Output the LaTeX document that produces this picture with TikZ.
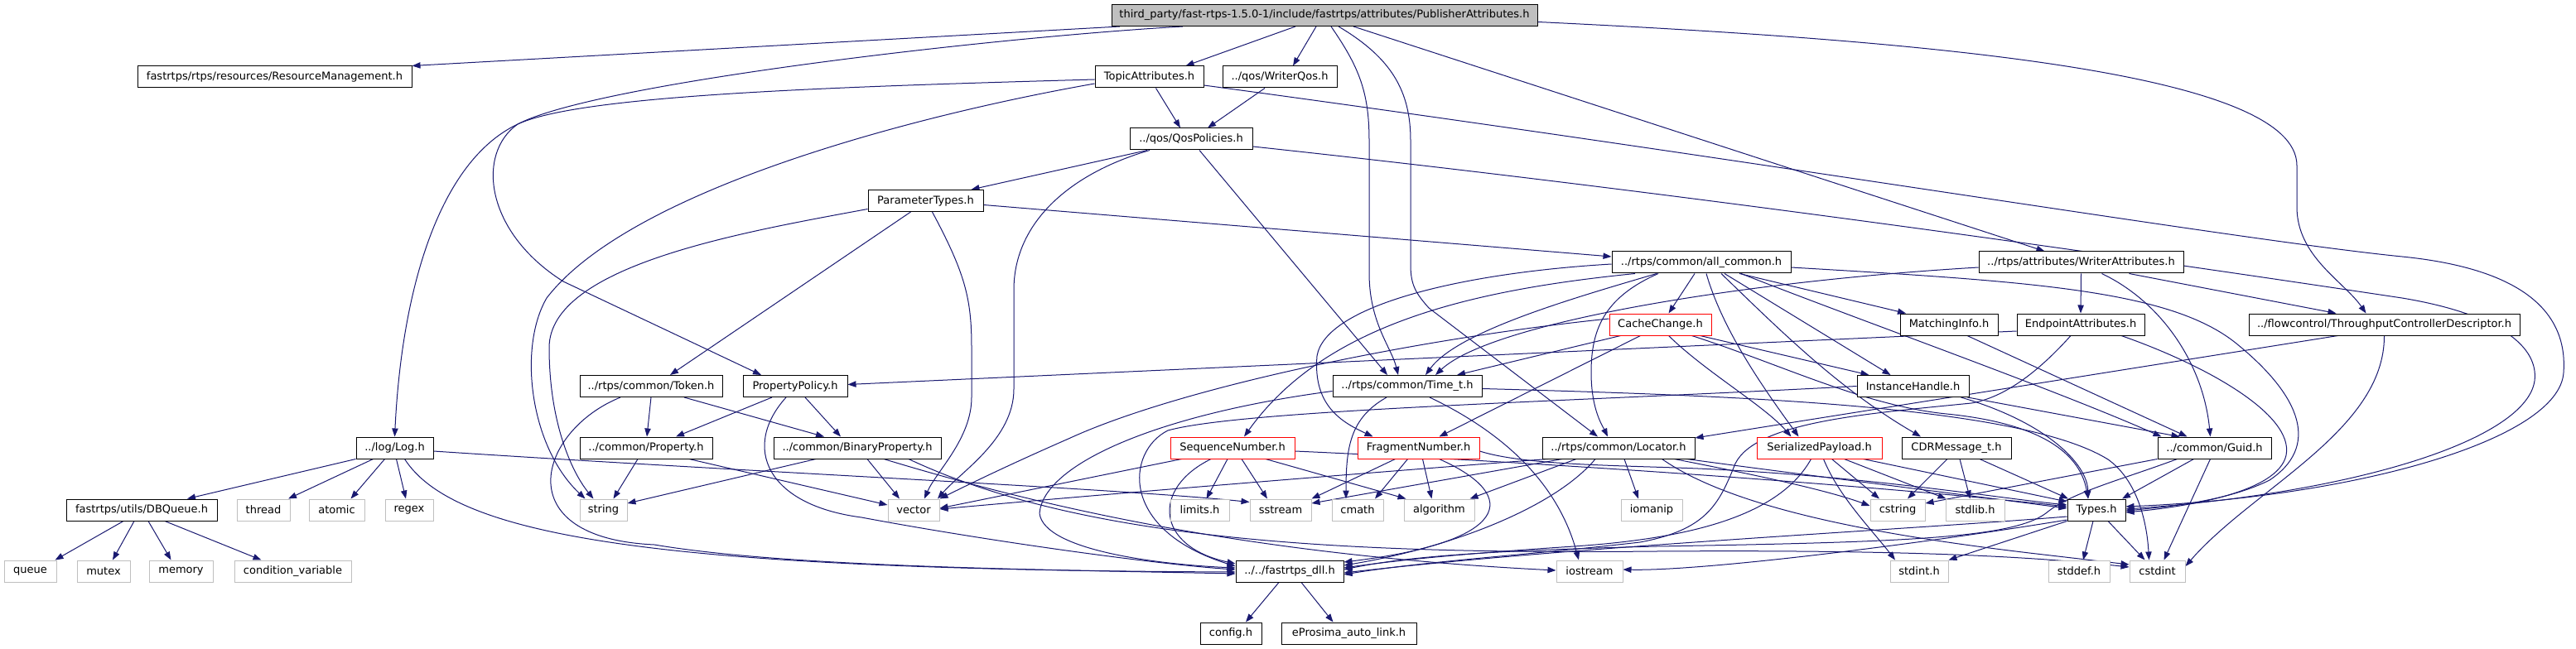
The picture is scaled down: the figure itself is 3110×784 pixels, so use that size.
\documentclass[tikz,border=0pt]{standalone}
\usepackage{fontspec}
\newfontfamily\dfont{DejaVu Sans}
\usetikzlibrary{arrows.meta,calc}
\definecolor{mblue}{HTML}{191970}
\definecolor{lgray}{HTML}{BFBFBF}
\pgfdeclarelayer{bg}
\pgfsetlayers{bg,main}
\begin{document}
\begin{tikzpicture}[x=0.75pt,y=-0.75pt,
  nd/.style={draw=black, fill=white, line width=0.75pt, inner sep=0pt, minimum height=19.5pt,
             font=\dfont\fontsize{9.75}{11}\selectfont, text=black, minimum width=#1*0.75pt},
  ns/.style={nd=#1, draw=lgray},
  nr/.style={nd=#1, draw=red},
  e/.style={draw=mblue, line width=0.75pt, -{Triangle[length=7.5pt,width=5.5pt]}}]
\useasboundingbox (0,0) rectangle (3110,784);
% ---------------- nodes ----------------
\node[nd=514, fill=lgray] (pub) at (1599,18.5) {third\_party/fast-rtps-1.5.0-1/include/fastrtps/attributes/PublisherAttributes.h};
\node[nd=331] (rm) at (331.5,93) {fastrtps/rtps/resources/ResourceManagement.h};
\node[nd=131] (topic) at (1387.5,93) {TopicAttributes.h};
\node[nd=138] (wqos) at (1545,93) {../qos/WriterQos.h};
\node[nd=148] (qos) at (1438,168) {../qos/QosPolicies.h};
\node[nd=139] (ptypes) at (1117.5,242.5) {ParameterTypes.h};
\node[nd=216] (allc) at (2054,317) {../rtps/common/all\_common.h};
\node[nd=247] (wattr) at (2512.5,317) {../rtps/attributes/WriterAttributes.h};
\node[nr=123] (cache) at (2004.5,392) {CacheChange.h};
\node[nd=118] (match) at (2353,392) {MatchingInfo.h};
\node[nd=154] (endp) at (2512,392) {EndpointAttributes.h};
\node[nd=327] (thru) at (2878.5,392) {../flowcontrol/ThroughputControllerDescriptor.h};
\node[nd=172] (token) at (786,466.5) {../rtps/common/Token.h};
\node[nd=126] (ppol) at (960,466.5) {PropertyPolicy.h};
\node[nd=180] (timet) at (1699,466.5) {../rtps/common/Time\_t.h};
\node[nd=135] (ihandle) at (2309.5,466.5) {InstanceHandle.h};
\node[nd=93] (log) at (476.5,541) {../log/Log.h};
\node[nd=160] (prop) at (780,541) {../common/Property.h};
\node[nd=202] (bprop) at (1035,541) {../common/BinaryProperty.h};
\node[nr=150] (seqn) at (1488,541) {SequenceNumber.h};
\node[nr=147] (fragn) at (1712.5,541) {FragmentNumber.h};
\node[nd=184] (loc) at (1954,541) {../rtps/common/Locator.h};
\node[nr=151] (spay) at (2196.5,541) {SerializedPayload.h};
\node[nd=132] (cdr) at (2362,541) {CDRMessage\_t.h};
\node[nd=137] (guid) at (2673.5,541) {../common/Guid.h};
\node[nd=182] (dbq) at (171,616) {fastrtps/utils/DBQueue.h};
\node[ns=64] (thread) at (318,616) {thread};
\node[ns=67] (atomic) at (406.5,616) {atomic};
\node[ns=58] (regex) at (494,616) {regex};
\node[ns=57] (string) at (728.5,616) {string};
\node[ns=62] (vector) at (1103,616) {vector};
\node[ns=71] (limits) at (1448.5,616) {limits.h};
\node[ns=74] (sstream) at (1546,616) {sstream};
\node[ns=62] (cmath) at (1639,616) {cmath};
\node[ns=85] (algorithm) at (1737.5,616) {algorithm};
\node[ns=74] (iomanip) at (1994,616) {iomanip};
\node[ns=66] (cstring) at (2291,616) {cstring};
\node[ns=71] (stdlib) at (2384.5,616) {stdlib.h};
\node[nd=70] (types) at (2531,616) {Types.h};
\node[ns=63] (queue) at (36.5,690) {queue};
\node[ns=64] (mutex) at (125,690) {mutex};
\node[ns=77] (memory) at (218.5,690) {memory};
\node[ns=141] (condvar) at (353.5,690) {condition\_variable};
\node[nd=130] (dll) at (1557,690) {../../fastrtps\_dll.h};
\node[ns=80] (iostream) at (1919,690) {iostream};
\node[ns=70] (stdinth) at (2317,690) {stdint.h};
\node[ns=74] (stddef) at (2510,690) {stddef.h};
\node[ns=67] (cstdint) at (2604.5,690) {cstdint};
\node[nd=74] (config) at (1486,765) {config.h};
\node[nd=163] (eprosima) at (1628.5,765) {eProsima\_auto\_link.h};
% ---------------- edges ----------------
\begin{pgfonlayer}{bg}
% PublisherAttributes
\draw[e] ($(pub.south)+(-247,0)$) -- (rm.north east);
\draw[e] ($(pub.south)+(-171,0)$) .. controls (1200,45) and (720,100) .. (625,150) .. controls (575,185) and (585,280) .. (680,340) -- ($(ppol.north)+(-41,0)$);
\draw[e] ($(pub.south)+(-35,0)$) -- ($(topic.north)+(44,0)$);
\draw[e] ($(pub.south)+(-10,0)$) -- ($(wqos.north)+(16,0)$);
\draw[e] ($(pub.south)+(8,0)$) .. controls (1640,80) and (1653,110) .. (1653,170) -- (1653,330) .. controls (1653,390) and (1680,420) .. ($(timet.north)+(-11,0)$);
\draw[e] ($(pub.south)+(17,0)$) .. controls (1680,70) and (1703,110) .. (1703,170) -- (1703,320) .. controls (1703,345) and (1710,355) .. (1725,372) -- ($(loc.north)+(-25,0)$);
\draw[e] ($(pub.south)+(35,0)$) -- ($(wattr.north)+(-44,0)$);
\draw[e] ($(pub.east)+(0,8)$) .. controls (2350,50) and (2773,90) .. (2773,200) -- (2773,250) .. controls (2773,310) and (2830,340) .. ($(thru.north)+(-22,0)$);
% TopicAttributes
\draw[e] ($(topic.west)+(0,3)$) .. controls (1000,105) and (700,115) .. (625,150) .. controls (530,195) and (485,350) .. (log.north);
\draw[e] ($(topic.south)+(8,0)$) -- ($(qos.north)+(-13,0)$);
\draw[e] ($(topic.west)+(0,8)$) .. controls (1100,140) and (760,230) .. (660,360) .. controls (625,420) and (640,540) .. ($(string.north)+(-22,0)$);
\draw[e] ($(topic.east)+(0,10)$) .. controls (2100,190) and (2700,290) .. (2900,310) .. controls (3050,325) and (3100,380) .. (3095,450) .. controls (3090,530) and (2850,600) .. ($(types.east)+(0,-4)$);
% WriterQos
\draw[e] ($(wqos.south)+(-18,0)$) -- ($(qos.north)+(20,0)$);
% QosPolicies
\draw[e] ($(qos.south)+(-53,0)$) -- ($(ptypes.north)+(55,0)$);
\draw[e] ($(qos.south)+(-50,0)$) .. controls (1290,210) and (1224,270) .. (1224,350) -- (1224,470) .. controls (1224,530) and (1160,570) .. ($(vector.north)+(29,0)$);
\draw[e] ($(qos.south)+(10,0)$) -- ($(timet.north)+(-24,0)$);
\draw[e] ($(qos.east)+(0,9)$) .. controls (2100,240) and (2700,330) .. (2900,360) .. controls (3020,380) and (3065,420) .. (3060,460) .. controls (3050,530) and (2850,595) .. ($(types.east)+(0,-1)$);
% ParameterTypes
\draw[e] ($(ptypes.east)+(0,5)$) -- ($(allc.west)+(0,-7)$);
\draw[e] ($(ptypes.west)+(0,10)$) .. controls (900,280) and (663,320) .. (663,420) .. controls (663,510) and (690,570) .. ($(string.north)+(-12,0)$);
\draw[e] ($(ptypes.south)+(-18,0)$) -- ($(token.north)+(23,0)$);
\draw[e] ($(ptypes.south)+(8,0)$) .. controls (1165,330) and (1173,360) .. (1173,420) -- (1173,480) .. controls (1173,530) and (1130,570) .. ($(vector.north)+(13,0)$);
% all_common
\draw[e] ($(allc.south)+(-8,0)$) -- ($(cache.north)+(10,0)$);
\draw[e] ($(allc.south)+(46,0)$) -- ($(match.north)+(-52,0)$);
\draw[e] ($(allc.south)+(28,0)$) -- ($(ihandle.north)+(-27,0)$);
\draw[e] ($(allc.south)+(24,0)$) .. controls (2150,400) and (2220,470) .. ($(cdr.north)+(-43,0)$);
\draw[e] ($(allc.south)+(6,0)$) .. controls (2080,400) and (2130,470) .. ($(spay.north)+(-25,0)$);
\draw[e] ($(allc.south)+(-52,0)$) .. controls (1935,360) and (1921,400) .. (1921,450) .. controls (1921,495) and (1935,515) .. ($(loc.north)+(-13,0)$);
\draw[e] ($(allc.south)+(-54,0)$) .. controls (1900,360) and (1760,400) .. ($(timet.north)+(22,0)$);
\draw[e] ($(allc.south)+(-80,0)$) .. controls (1780,350) and (1600,390) .. ($(seqn.north)+(14,0)$);
\draw[e] ($(allc.west)+(0,2)$) .. controls (1760,330) and (1600,370) .. (1590,430) .. controls (1585,490) and (1620,510) .. ($(fragn.north)+(-55,0)$);
\draw[e] ($(allc.south)+(48,0)$) .. controls (2240,385) and (2480,470) .. ($(guid.north)+(-64,0)$);
\draw[e] ($(allc.east)+(0,6)$) .. controls (2450,340) and (2620,350) .. (2700,415) .. controls (2780,480) and (2800,540) .. (2740,580) .. controls (2690,605) and (2620,612) .. ($(types.east)+(0,1)$);
% WriterAttributes
\draw[e] ($(wattr.west)+(0,6)$) .. controls (2100,340) and (1800,390) .. ($(timet.north)+(34,0)$);
\draw[e] (wattr.south) -- (endp.north);
\draw[e] ($(wattr.south)+(25,0)$) .. controls (2610,365) and (2660,440) .. ($(guid.north)+(-5,0)$);
\draw[e] ($(wattr.south)+(58,0)$) -- ($(thru.north)+(-58,0)$);
% CacheChange
\draw[e] ($(cache.south)+(-48,0)$) -- ($(timet.north)+(60,0)$);
\draw[e] ($(cache.south)+(-24,0)$) -- ($(fragn.north)+(25,0)$);
\draw[e] ($(cache.south)+(10,0)$) .. controls (2060,450) and (2130,490) .. ($(spay.north)+(-34,0)$);
\draw[e] ($(cache.south)+(48,0)$) -- ($(ihandle.north)+(-53,0)$);
\draw[e] ($(cache.south)+(38,0)$) .. controls (2150,440) and (2250,490) .. (2350,500) .. controls (2450,510) and (2510,540) .. ($(types.north)+(-10,0)$);
\draw[e] ($(cache.west)+(0,-7)$) .. controls (1700,410) and (1420,470) .. (1290,530) .. controls (1210,565) and (1160,590) .. (vector.north east);
% Time_t
\draw[e] ($(timet.south)+(-25,0)$) .. controls (1630,505) and (1625,540) .. ($(cmath.north)+(-14,0)$);
\draw[e] ($(timet.south)+(27,0)$) .. controls (1810,520) and (1880,580) .. ($(iostream.north)+(-13,0)$);
\draw[e] ($(timet.east)+(0,3)$) .. controls (2100,478) and (2440,490) .. (2545,555) .. controls (2580,580) and (2592,630) .. ($(cstdint.north)+(-10,0)$);
\draw[e] ($(timet.west)+(0,6)$) .. controls (1400,500) and (1260,560) .. (1255,620) .. controls (1260,665) and (1400,682) .. ($(dll.west)+(0,-4)$);
% SequenceNumber
\draw[e] ($(seqn.south west)+(14,0)$) -- ($(vector.east)+(0,-2)$);
\draw[e] ($(seqn.south)+(-26,0)$) .. controls (1390,590) and (1395,660) .. ($(dll.west)+(0,-9)$);
\draw[e] ($(seqn.south)+(-6,0)$) -- ($(limits.north)+(8,0)$);
\draw[e] ($(seqn.south)+(11,0)$) -- ($(sstream.north)+(-16,0)$);
\draw[e] ($(seqn.south)+(40,0)$) -- ($(algorithm.north)+(-40,0)$);
\draw[e] ($(seqn.east)+(0,4)$) .. controls (1900,560) and (2300,590) .. ($(types.west)+(0,-4)$);
% FragmentNumber
\draw[e] ($(fragn.south)+(-28,0)$) -- (sstream.north east);
\draw[e] ($(fragn.south)+(-13,0)$) -- ($(cmath.north)+(21,0)$);
\draw[e] ($(fragn.south)+(5,0)$) -- ($(algorithm.north)+(-9,0)$);
\draw[e] ($(fragn.south)+(25,0)$) .. controls (1840,600) and (1820,655) .. ($(dll.east)+(0,-11)$);
\draw[e] ($(fragn.east)+(0,4)$) .. controls (1840,562) and (1950,562) .. (2050,566) .. controls (2250,575) and (2400,600) .. ($(types.west)+(0,-6)$);
% Locator
\draw[e] ($(loc.south west)+(7,0)$) .. controls (1600,575) and (1300,600) .. ($(vector.east)+(0,-1)$);
\draw[e] ($(loc.south)+(-68,0)$) -- ($(sstream.east)+(0,-8)$);
\draw[e] ($(loc.south)+(-51,0)$) -- ($(algorithm.north east)+(-6,0)$);
\draw[e] ($(loc.south)+(-28,0)$) .. controls (1880,610) and (1760,660) .. ($(dll.east)+(0,-7)$);
\draw[e] ($(loc.south)+(7,0)$) -- ($(iomanip.north)+(-16,0)$);
\draw[e] ($(loc.south east)+(-10,0)$) .. controls (2150,570) and (2350,595) .. ($(types.west)+(0,-2)$);
\draw[e] ($(loc.south east)+(-25,0)$) .. controls (2100,570) and (2200,590) .. ($(cstring.west)+(0,-5)$);
\draw[e] ($(loc.south east)+(-40,0)$) .. controls (2100,620) and (2300,650) .. (2450,668) -- ($(cstdint.west)+(0,-8)$);
% SerializedPayload
\draw[e] ($(spay.south)+(-10,0)$) .. controls (2150,620) and (2050,650) .. (1900,660) .. controls (1780,668) and (1700,675) .. ($(dll.east)+(0,-4)$);
\draw[e] ($(spay.south)+(5,0)$) .. controls (2220,600) and (2260,640) .. ($(stdinth.north)+(-29,0)$);
\draw[e] ($(spay.south)+(15,0)$) -- ($(cstring.north)+(-22,0)$);
\draw[e] ($(spay.south)+(30,0)$) -- ($(stdlib.north)+(-35,0)$);
\draw[e] ($(spay.south east)+(-23,0)$) -- ($(types.west)+(0,-10)$);
% CDRMessage_t
\draw[e] ($(cdr.south)+(-11,0)$) -- ($(cstring.north)+(12,0)$);
\draw[e] ($(cdr.south)+(4,0)$) -- ($(stdlib.north)+(-6,0)$);
\draw[e] ($(cdr.south)+(28,0)$) -- ($(types.north)+(-34,0)$);
% Guid
\draw[e] (guid.south west) -- ($(cstring.east)+(0,-8)$);
\draw[e] ($(guid.south)+(-25,0)$) -- ($(types.north)+(31,0)$);
\draw[e] ($(guid.south)+(-5,0)$) -- ($(cstdint.north)+(8,0)$);
\draw[e] ($(guid.south)+(-45,0)$) .. controls (2560,580) and (2500,595) .. (2470,620) .. controls (2430,650) and (2300,655) .. (2000,660) .. controls (1800,665) and (1700,672) .. ($(dll.east)+(0,-2)$);
% Types
\draw[e] (types.south west) -- (stdinth.north east);
\draw[e] ($(types.south)+(-4,0)$) -- ($(stddef.north)+(5,0)$);
\draw[e] ($(types.south)+(14,0)$) -- ($(cstdint.north)+(-15,0)$);
\draw[e] ($(types.west)+(0,8)$) .. controls (2300,640) and (1900,660) .. ($(dll.east)+(0,2)$);
\draw[e] ($(types.west)+(0,12)$) .. controls (2300,660) and (2050,690) .. ($(iostream.east)+(0,-2)$);
% EndpointAttributes
\draw[e] ($(endp.west)+(0,8)$) -- ($(ppol.east)+(0,-2)$);
\draw[e] ($(endp.south)+(-12,0)$) .. controls (2460,450) and (2420,480) .. (2380,487) .. controls (2250,500) and (2120,510) .. (2095,560) .. controls (2075,610) and (2060,640) .. (1980,655) .. controls (1850,670) and (1720,678) .. ($(dll.east)+(0,4)$);
\draw[e] ($(endp.south)+(49,0)$) .. controls (2660,440) and (2770,500) .. (2760,550) .. controls (2750,595) and (2640,612) .. ($(types.east)+(0,3)$);
% InstanceHandle
\draw[e] ($(ihandle.south east)+(-2,0)$) -- ($(guid.north)+(-42,0)$);
\draw[e] ($(ihandle.south)+(58,0)$) .. controls (2470,510) and (2520,560) .. ($(types.north)+(-10,0)$);
\draw[e] (ihandle.west) .. controls (1900,485) and (1500,495) .. (1410,520) .. controls (1360,545) and (1350,640) .. ($(dll.west)+(0,-6)$);
% MatchingInfo
\draw[e] ($(match.south)+(22,0)$) -- ($(guid.north)+(-33,0)$);
% ThroughputControllerDescriptor
\draw[e] ($(thru.south)+(-56,0)$) -- ($(loc.east)+(0,-12)$);
\draw[e] (thru.south) .. controls (2879,520) and (2720,590) .. ($(cstdint.east)+(0,-6)$);
% Log
\draw[e] (log.south west) -- ($(dbq.north)+(55,0)$);
\draw[e] ($(log.south)+(-26,0)$) -- ($(thread.north)+(30,0)$);
\draw[e] ($(log.south)+(-12,0)$) -- ($(atomic.north)+(17,0)$);
\draw[e] ($(log.south)+(2,0)$) -- ($(regex.north)+(-4,0)$);
\draw[e] ($(log.south)+(12,0)$) .. controls (550,650) and (800,688) .. ($(dll.west)+(0,1)$);
\draw[e] ($(log.east)+(0,4)$) .. controls (900,570) and (1350,590) .. ($(sstream.north west)+(0,4)$);
% DBQueue
\draw[e] ($(dbq.south)+(-22,0)$) -- ($(queue.north)+(30,0)$);
\draw[e] ($(dbq.south)+(-9,0)$) -- ($(mutex.north)+(11,0)$);
\draw[e] ($(dbq.south)+(8,0)$) -- ($(memory.north)+(-12,0)$);
\draw[e] ($(dbq.south)+(28,0)$) -- ($(condvar.north)+(-38,0)$);
% Token
\draw[e] (token.south) -- ($(prop.north)+(1,0)$);
\draw[e] ($(token.south)+(40,0)$) -- ($(bprop.north)+(-40,0)$);
\draw[e] ($(token.south)+(-37,0)$) .. controls (650,520) and (610,650) .. (790,658) .. controls (950,685) and (1250,688) .. ($(dll.west)+(0,3)$);
% PropertyPolicy
\draw[e] ($(ppol.south)+(-28,0)$) -- ($(prop.north)+(36,0)$);
\draw[e] ($(ppol.south)+(12,0)$) -- ($(bprop.north)+(-20,0)$);
\draw[e] ($(ppol.south)+(-11,0)$) .. controls (895,540) and (925,610) .. (1040,625) .. controls (1200,655) and (1400,682) .. ($(dll.west)+(0,-2)$);
% Property
\draw[e] ($(prop.south)+(-10,0)$) -- ($(string.north)+(12,0)$);
\draw[e] ($(prop.south)+(52,0)$) -- ($(vector.west)+(0,-6)$);
% BinaryProperty
\draw[e] ($(bprop.south)+(-50,0)$) -- ($(string.east)+(0,-8)$);
\draw[e] ($(bprop.south)+(12,0)$) -- ($(vector.north)+(-17,0)$);
\draw[e] ($(bprop.south)+(32,0)$) .. controls (1250,610) and (1500,670) .. ($(iostream.west)+(0,-1)$);
\draw[e] ($(bprop.south)+(62,0)$) .. controls (1300,650) and (1600,670) .. (2000,666) .. controls (2300,664) and (2450,672) .. ($(cstdint.west)+(0,-5)$);
% fastrtps_dll
\draw[e] ($(dll.south)+(-13,0)$) -- ($(config.north)+(18,0)$);
\draw[e] ($(dll.south)+(14,0)$) -- ($(eprosima.north)+(-19,0)$);
\end{pgfonlayer}
\end{tikzpicture}
\end{document}
